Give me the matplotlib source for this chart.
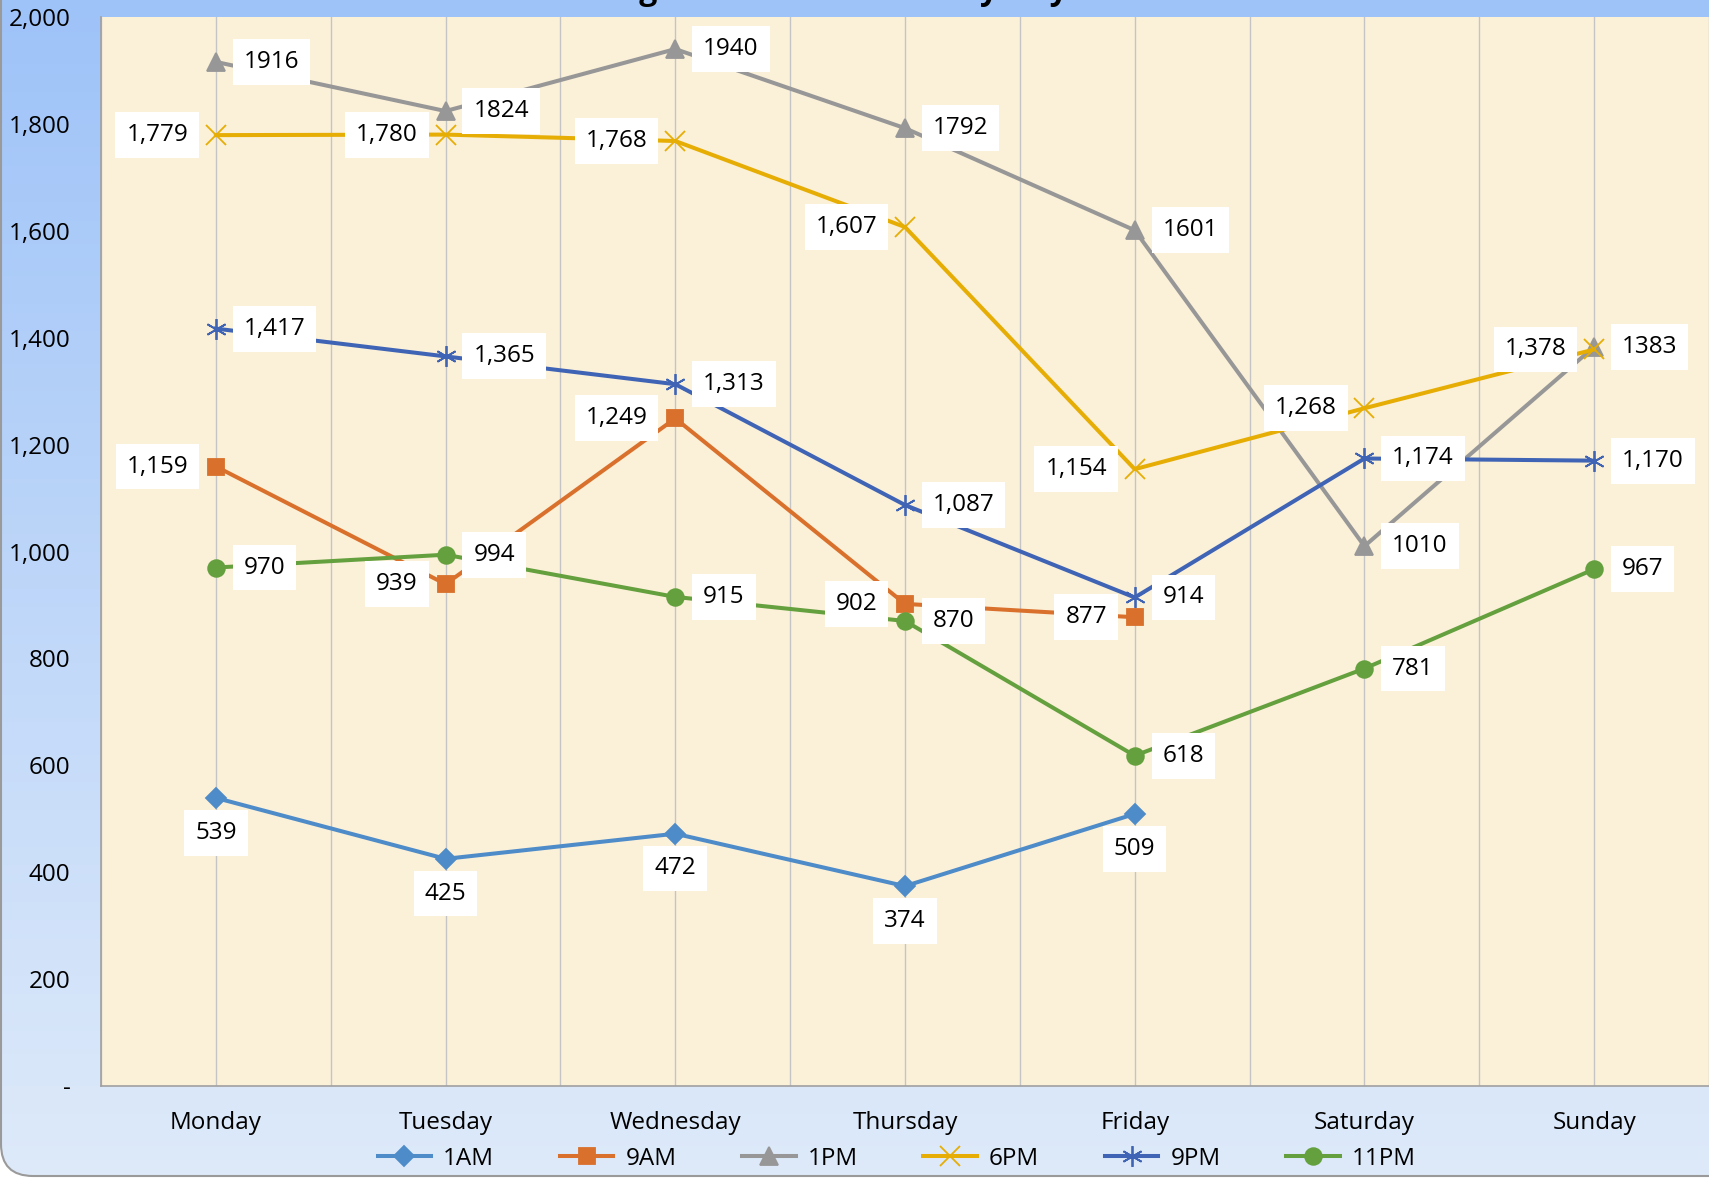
import numpy as np
import matplotlib.pyplot as plt
from matplotlib.lines import Line2D
from matplotlib.patches import FancyBboxPatch
from matplotlib.ticker import FuncFormatter

plt.rcParams['font.family'] = ['Open Sans', 'DejaVu Sans']

days = ["Monday", "Tuesday", "Wednesday", "Thursday", "Friday", "Saturday", "Sunday"]
hours = ["1AM", "9AM", "1PM", "6PM", "9PM", "11PM"]

am1 = [539, 425, 472, 374, 509, np.nan, np.nan]
am9 = [1159, 939, 1249, 902, 877, np.nan, np.nan]
pm1 = [1916, 1824, 1940, 1792, 1601, 1010, 1383]
pm6 = [1779, 1780, 1768, 1607, 1154, 1268, 1378]
pm9 = [1417, 1365, 1313, 1087, 914, 1174, 1170]
pm11 = [970, 994, 915, 870, 618, 781, 967]

W, H = 1709, 1178
fig = plt.figure(figsize=(W / 100, H / 100), dpi=100)
fig.patch.set_facecolor("white")

# background: blue gradient with rounded bottom corners
bg = fig.add_axes([0, 0, 1, 1], zorder=-10)
bg.set_xlim(0, W)
bg.set_ylim(0, H)
bg.axis("off")
top = np.array([158, 195, 248]) / 255
bot = np.array([222, 234, 250]) / 255
t = np.linspace(0, 1, 256)[:, None]
grad = top[None, :] * (1 - t) + bot[None, :] * t
im = bg.imshow(grad[:, None, :], extent=[0, W, 0, H], aspect="auto", origin="upper")
frame = FancyBboxPatch((1, 2), W + 60, H + 60, boxstyle="round,pad=0,rounding_size=32",
                       facecolor="none", edgecolor="#9A9A9A", lw=1.5)
bg.add_patch(frame)
im.set_clip_path(frame)

# title is cut off by the top edge in the original
fig.text(0.4535, 1 + 1 / H, "Mean Usage Count Each Hour by Day", ha="center", va="baseline",
         fontsize=23, fontweight="bold")

ax = fig.add_axes([101 / W, 92 / H, (W - 101) / W, 1069 / H])
ax.set_facecolor("#FBF0D8")
x = np.arange(len(days))

series = [
    (am1, "#4E8BC9", "D", 10, "below", True),
    (am9, "#D9702B", "s", 12, "left", True),
    (pm1, "#979797", "^", 13, "right", False),
    (pm6, "#E6AD05", "x", 15, "left", True),
    (pm9, "#3F64B5", (6, 2, 0), 15, "right", True),
    (pm11, "#64A03E", "o", 12, "right", True),
]

handles = []
for (vals, col, mk, ms, side, comma), name in zip(series, hours):
    ax.plot(x, vals, color=col, lw=2.9, marker=mk, ms=ms, mew=1.3,
            mec=col, mfc=col, zorder=3)
    handles.append(Line2D([], [], color=col, lw=2.9, marker=mk, ms=ms, mew=1.3,
                          mec=col, mfc=col, label=name))
    for xi, v in zip(x, vals):
        if np.isnan(v):
            continue
        txt = f"{int(v):,}" if comma else f"{int(v)}"
        if side == "right":
            off, ha = (20, 0), "left"
        elif side == "left":
            off, ha = (-20, 0), "right"
        else:
            off, ha = (0, -25), "center"
        ax.annotate(txt, (xi, v), xytext=off, textcoords="offset points",
                    ha=ha, va="center", fontsize=17.5, zorder=5,
                    bbox=dict(boxstyle="square,pad=0.45", fc="white", ec="none"))

ax.set_xlim(-0.5, 6.5)
ax.set_ylim(0, 2000)
ax.set_xticks(x)
ax.set_xticklabels(days)
ax.set_xticks(np.arange(-0.5, 7, 1), minor=True)
ax.set_yticks(np.arange(0, 2001, 200))
ax.yaxis.set_major_formatter(FuncFormatter(lambda v, p: "-" if v == 0 else f"{int(v):,}"))
ax.grid(axis="x", which="both", color="#C4C4C4", lw=1)
ax.set_axisbelow(True)
ax.tick_params(which="both", length=0)
ax.tick_params(axis="y", pad=22, labelsize=17.5)
ax.tick_params(axis="x", pad=18, labelsize=17.5)
for s in ["top", "right"]:
    ax.spines[s].set_visible(False)
for s in ["left", "bottom"]:
    ax.spines[s].set_color("#A0A0A0")
    ax.spines[s].set_linewidth(1.2)

fig.legend(handles=handles, loc="center", bbox_to_anchor=(0.5247, 19 / H), ncol=6,
           frameon=False, fontsize=17.5, handlelength=2.2, columnspacing=2.7,
           handletextpad=0.5)

fig.savefig("out.png", dpi=100)
